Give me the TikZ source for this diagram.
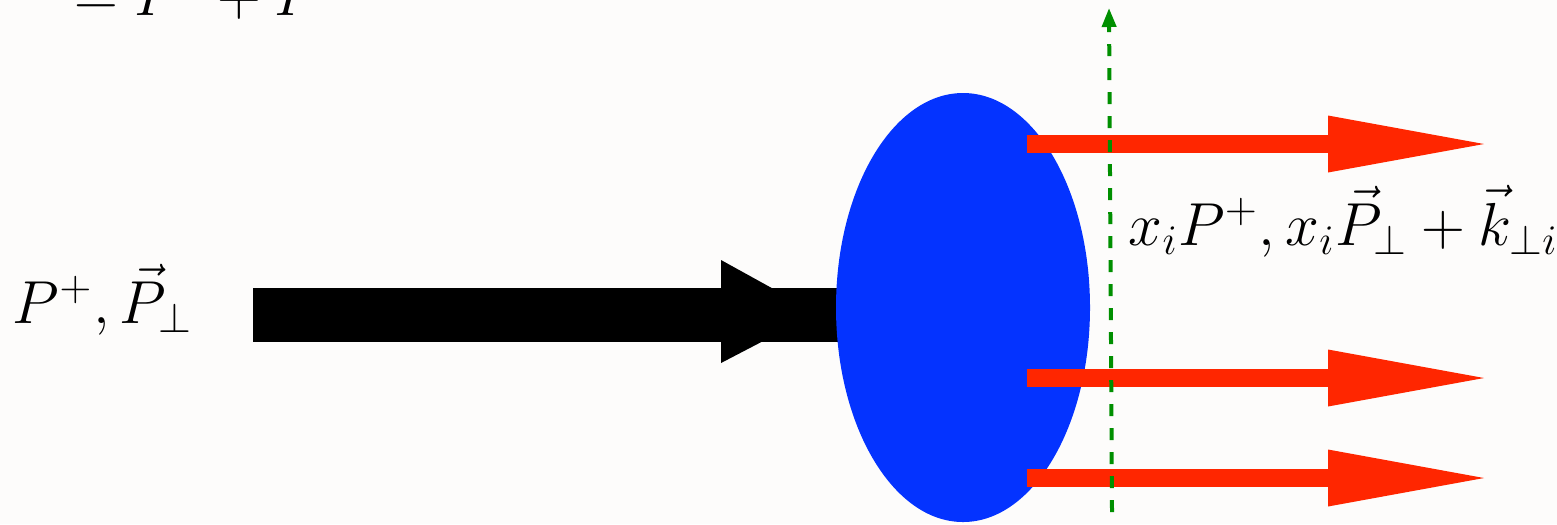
\documentclass[tikz,border=0pt]{standalone}
\usepackage{amsmath}
\usepackage{amssymb}
\usetikzlibrary{shapes.geometric,arrows.meta}
\DeclareMathSizes{16}{16}{13}{10}
\definecolor{paper}{RGB}{253,252,251}
\definecolor{blobblue}{RGB}{4,51,255}
\definecolor{partonred}{RGB}{255,38,0}
\definecolor{cutgreen}{RGB}{0,143,0}
\tikzset{
  hadron/.style={line width=0.54cm, black},
  parton/.style={line width=0.18cm, partonred},
  lightfront/.style={line width=0.04cm, cutgreen, dash pattern=on 0.12cm off 0.12cm,
    -{Triangle[length=0.19cm,width=0.14cm]}},
  mom/.style={inner sep=0pt, anchor=base west, font=\fontsize{16}{19}\selectfont}
}
\begin{document}
\begin{tikzpicture}
  \fill[paper] (0,0) rectangle (15.57,5.24);
  \useasboundingbox (0,0) rectangle (15.57,5.24);
  % incoming hadron
  \coordinate (hin) at (2.53,2.09);
  \coordinate (blobc) at (9.63,2.165);
  \draw[hadron] (hin) -- (blobc |- hin);
  \fill (7.21,2.64) -- (8.17,2.11) -- (7.21,1.61) -- cycle;
  \node[ellipse, fill=blobblue, minimum width=2.54cm, minimum height=4.29cm, inner sep=0pt] (blob) at (blobc) {};
  % outgoing partons
  \foreach \y/\name in {3.80/pa,1.46/pb,0.46/pc} {
    \coordinate (\name) at (10.27,\y);
    \coordinate (\name tip) at (14.84,\y);
    \draw[parton] (\name) -- (13.29,\y);
    \fill[partonred] (13.28,\y+0.285) -- (\name tip) -- (13.28,\y-0.285) -- cycle;
  }
  % light-front time
  \coordinate (lfbot) at (11.12,0.12);
  \coordinate (lftop) at (11.09,5.16);
  \draw[lightfront] (lfbot) -- (lftop);
  % labels
  \node[mom] (pin) at (0.12,2.01) {$P^+,\vec{P}_\perp$};
  \node[mom] (pout) at (11.28,2.79) {$x_iP^+,x_i\vec{P}_\perp+\vec{k}_{\perp i}$};
  \node[mom, font=\LARGE] (tau) at (-0.24,5.09) {$P^+=P^0+P^3$};
\end{tikzpicture}
\end{document}
